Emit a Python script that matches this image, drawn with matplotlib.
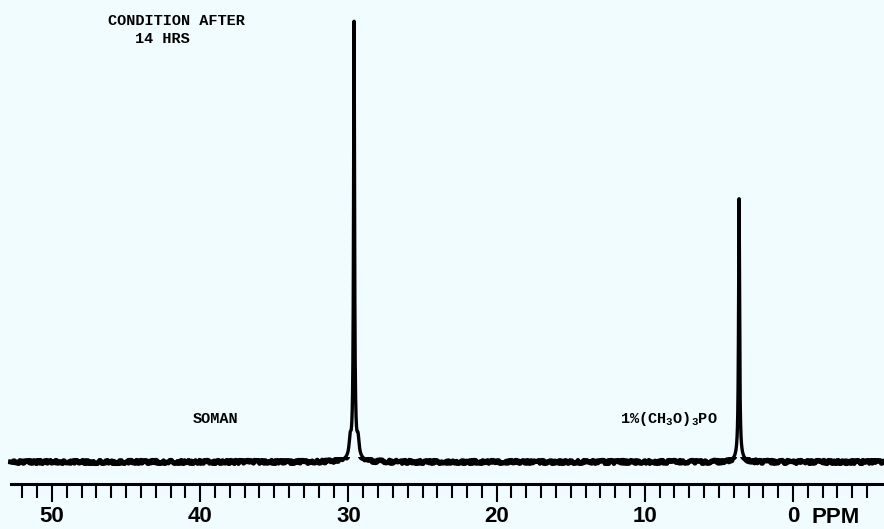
import numpy as np
import matplotlib.pyplot as plt
from matplotlib.patches import Rectangle

plt.rcParams['mathtext.fontset'] = 'custom'
plt.rcParams['mathtext.rm'] = 'Liberation Mono:bold'
plt.rcParams['mathtext.it'] = 'Liberation Mono:bold'
plt.rcParams['mathtext.bf'] = 'Liberation Mono:bold'

# peaks: position (ppm), height (% of soman peak), half width (ppm)
peak_ppm = [29.62, 29.88, 29.35, 29.60, 3.64, 3.64]
peak_height = [97.9, 3.5, 3.5, 1.5, 58.3, 1.2]
peak_width = [0.04, 0.08, 0.08, 0.35, 0.04, 0.25]

tick_labels = ['50', '40', '30', '20', '10', '0']
label_ppm = [50, 40, 30, 20, 10, 0]

bg = '#f0fcff'

ppm = np.linspace(52.8, -6.2, 8000)
spec = np.zeros_like(ppm)
for p, h, w in zip(peak_ppm, peak_height, peak_width):
    spec += h / (1 + ((ppm - p) / w) ** 2)

fig = plt.figure(figsize=(8.84, 5.29), dpi=100, facecolor=bg)
ax = fig.add_axes([0, 0, 1, 1], facecolor=bg)
ax.set_xlim(53.51, -6.14)
ax.set_ylim(-15.14, 104.4)

# clean trace for the peaks, jittery copies along the baseline for the noise
ax.plot(ppm, spec, color='black', lw=2.4, solid_joinstyle='round')
for sc, ln in [(1.8, 4), (1.5, 7)]:
    noisy, = ax.plot(ppm, spec, color='black', lw=3.3)
    noisy.set_sketch_params(scale=sc, length=ln, randomness=14)
    noisy.set_clip_path(Rectangle((-10, -4.2), 70, 5.4, transform=ax.transData))

for s in ['top', 'left', 'right']:
    ax.spines[s].set_visible(False)
ax.spines['bottom'].set_position(('data', -4.97))
ax.spines['bottom'].set_bounds(52.8, -6.14)
ax.spines['bottom'].set_linewidth(2.2)
ax.yaxis.set_visible(False)

ax.set_xticks(label_ppm)
ax.set_xticklabels(tick_labels, fontfamily='Liberation Sans', fontweight='bold', fontsize=16)
ax.set_xticks([v for v in range(-5, 53) if v % 10 != 0], minor=True)
ax.tick_params(axis='x', which='major', direction='out', length=13, width=1.5, pad=3)
ax.tick_params(axis='x', which='minor', direction='out', length=6.5, width=1.5)
for t in ax.xaxis.get_minor_ticks():
    if t.get_loc() % 5 == 0:
        t.tick1line.set_markersize(10)

mono = dict(fontfamily='Liberation Mono', fontweight='bold', fontsize=11, color='black')
ax.text(-2.9, -10.17, 'PPM', ha='center', va='top', fontfamily='Liberation Sans',
        fontweight='bold', fontsize=16)
ax.text(46.22, 98.76, 'CONDITION AFTER', ha='left', va='baseline', **mono)
ax.text(44.4, 94.6, '14 HRS', ha='left', va='baseline', **mono)
ax.text(40.49, 8.8, 'SOMAN', ha='left', va='baseline', **mono)
ax.text(11.67, 8.8, r'1%(CH$_3$O)$_3$PO', ha='left', va='baseline', **mono)

fig.savefig('out.png', dpi=100, facecolor=bg)
